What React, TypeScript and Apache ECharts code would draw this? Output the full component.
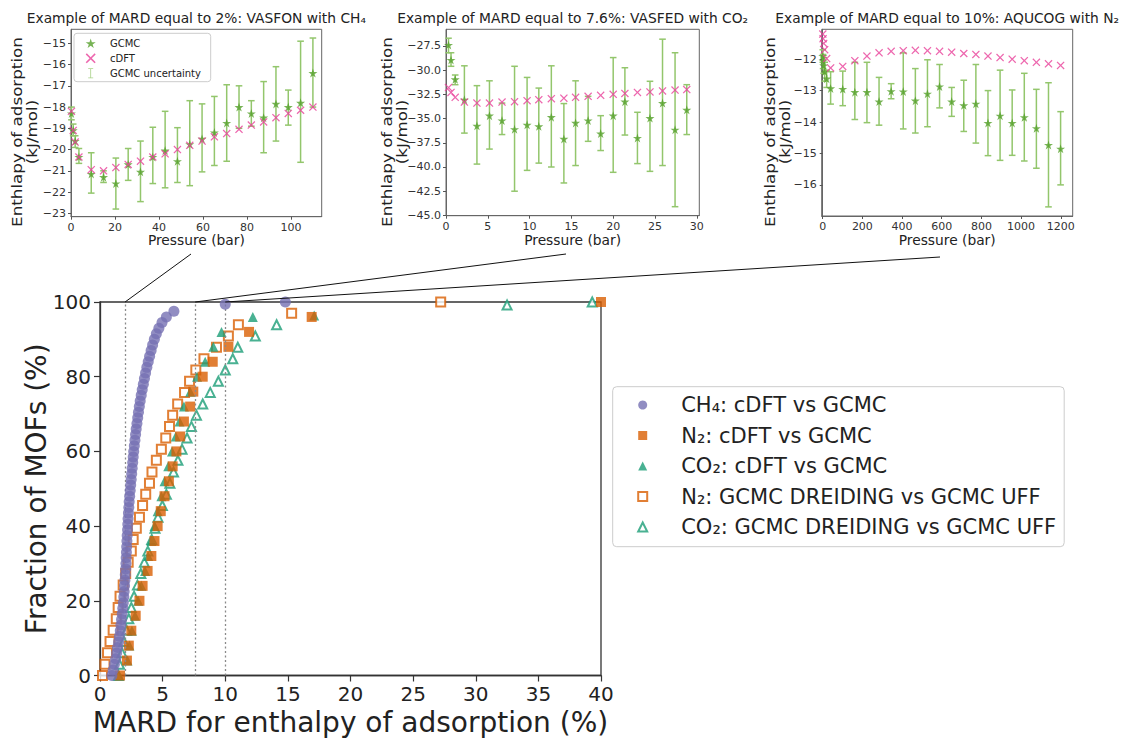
import React, { useEffect, useRef } from "react";
import * as echarts from "echarts";

const FONT = "DejaVu Sans, sans-serif";

// ---------------- Main panel: cumulative distributions ----------------
const CH4_FRACTION = [0, 1.5, 3, 4.5, 6, 7.5, 9, 10.5, 12, 13.5, 15, 16.5, 18, 19.5, 21, 22.5, 24, 25.5, 27, 28.5, 30, 31.5, 33, 34.5, 36, 37.5, 39, 40.5, 42, 43.5, 45, 46.5, 48, 49.5, 51, 52.5, 54, 55.5, 57, 58.5, 60, 61.5, 63, 64.5, 66, 67.5, 69, 70.5, 72, 73.5, 75, 76.5, 78, 79.5, 81, 82.5, 84, 85.5, 87, 88.5, 90, 91.5, 93, 94.5, 96, 97.5, 99.4, 100];
const CH4_MARD = [0.95, 1.05, 1.15, 1.25, 1.33, 1.4, 1.48, 1.55, 1.62, 1.67,
  1.72, 1.77, 1.82, 1.86, 1.9, 1.93, 1.96, 1.99, 2.02, 2.05,
  2.07, 2.09, 2.11, 2.13, 2.15, 2.17, 2.2, 2.22, 2.24, 2.27,
  2.3, 2.33, 2.37, 2.41, 2.45, 2.49, 2.53, 2.57, 2.61, 2.65,
  2.69, 2.74, 2.79, 2.84, 2.89, 2.95, 3.01, 3.07, 3.14, 3.21,
  3.29, 3.37, 3.46, 3.55, 3.64, 3.74, 3.85, 3.96, 4.08, 4.2,
  4.34, 4.5, 4.7, 4.95, 5.3, 5.9, 10.0, 14.8];

const N2_CDFT_FRACTION = [0, 4, 8, 12, 16, 20, 24, 28, 32, 36, 40, 44, 48, 52, 56, 60, 64, 68, 72, 76, 80, 84, 88, 92, 96, 100];
const N2_CDFT_MARD = [1.6, 2.15, 2.3, 2.5, 2.85, 3.15, 3.4, 3.8, 4.1, 4.35, 4.6, 4.85, 5.15, 5.5, 5.8, 6.1, 6.4, 6.7, 7.2, 7.45, 8.2, 9.0, 10.25, 11.9, 16.9, 40.0];

const CO2_CDFT_FRACTION = [0, 4, 8, 12, 16, 20, 24, 28, 32, 36, 40, 44, 48, 52, 56, 60, 64, 68, 72, 76, 80, 84, 88, 92, 96, 96.4];
const CO2_CDFT_MARD = [1.5, 2.2, 2.35, 2.55, 2.8, 3.05, 3.3, 3.6, 3.85, 4.1, 4.35, 4.6, 4.9, 5.15, 5.45, 5.75, 6.05, 6.35, 6.7, 7.2, 7.75, 8.4, 9.05, 9.7, 12.2, 17.1];

const N2_FF_FRACTION = [0, 3.0, 6.1, 9.1, 12.1, 15.2, 18.2, 21.2, 24.2, 27.3, 30.3, 33.3, 36.4, 39.4, 42.4, 45.5, 48.5, 51.5, 54.5, 57.6, 60.6, 63.6, 66.7, 69.7, 72.7, 75.8, 78.8, 81.8, 84.8, 87.9, 90.9, 93.9, 97.0, 100];
const N2_FF_MARD = [0.2, 0.4, 0.6, 0.8, 1.05, 1.3, 1.45, 1.6, 1.85, 2.05, 2.25, 2.5, 2.65, 2.9, 3.15, 3.4, 3.65, 3.95, 4.15, 4.5, 4.9, 5.25, 5.55, 5.8, 6.2, 6.75, 7.15, 7.65, 8.3, 9.3, 10.25, 11.05, 15.3, 27.2];

const CO2_FF_FRACTION = [0, 3.0, 6.1, 9.1, 12.1, 15.2, 18.2, 21.2, 24.2, 27.3, 30.3, 33.3, 36.4, 39.4, 42.4, 45.5, 48.5, 51.5, 54.5, 57.6, 60.6, 63.6, 66.7, 69.7, 72.7, 75.8, 78.8, 81.8, 84.8, 87.9, 90.9, 93.9, 99.2, 100];
const CO2_FF_MARD = [1.47, 1.56, 1.75, 1.9, 2.12, 2.3, 2.5, 2.72, 2.99, 3.26, 3.54, 3.82, 4.13, 4.39, 4.63, 4.98, 5.3, 5.58, 5.87, 6.22, 6.55, 6.95, 7.3, 7.7, 8.2, 8.8, 9.45, 10.0, 10.6, 11.0, 12.4, 14.1, 32.5, 39.3];

const SERIES_LABELS = [
  "CH\u2084: cDFT vs GCMC",
  "N\u2082: cDFT vs GCMC",
  "CO\u2082: cDFT vs GCMC",
  "N\u2082: GCMC DREIDING vs GCMC UFF",
  "CO\u2082: GCMC DREIDING vs GCMC UFF",
];
const MARD_EXAMPLES = [2, 7.6, 10];
const MAIN_X_RANGE = [0, 40];
const MAIN_X_STEP = 5;
const MAIN_Y_RANGE = [0, 100];
const MAIN_Y_STEP = 20;

// ---------------- Inset 1: VASFON with CH4 ----------------
const VASFON_P = [0.2, 1.0, 1.9, 3.6, 9.2, 14.8, 20.4, 26.0, 31.6, 37.2, 42.8, 48.4, 54.0, 59.6, 65.2, 70.8, 76.4, 82.0, 87.6, 93.2, 98.8, 104.4, 110.0];
const VASFON_GCMC = [-18.3, -19.1, -19.6, -20.35, -21.15, -21.3, -21.6, -20.7, -21.05, -20.35, -20.05, -20.55, -19.75, -19.5, -19.2, -18.75, -18.0, -18.3, -18.5, -17.85, -18.0, -17.8, -16.4];
const VASFON_LOW = [-18.6, -19.35, -19.9, -20.65, -22.05, -21.55, -22.8, -21.45, -22.45, -21.6, -21.8, -21.55, -21.7, -21.05, -20.75, -20.55, -19.0, -18.9, -20.15, -19.6, -18.85, -20.6, -18.0];
const VASFON_HIGH = [-18.0, -18.8, -19.35, -19.95, -20.15, -21.0, -20.4, -19.95, -19.6, -18.95, -18.2, -18.97, -17.7, -17.85, -17.5, -16.95, -17.0, -17.7, -16.8, -16.1, -17.2, -14.9, -14.75];
const VASFON_CDFT = [-18.2, -19.1, -19.65, -20.35, -20.95, -21.0, -20.85, -20.7, -20.55, -20.35, -20.2, -20.0, -19.8, -19.6, -19.4, -19.25, -19.05, -18.85, -18.7, -18.5, -18.3, -18.15, -18.0];
const VASFON_X_TICKS = [0, 20, 40, 60, 80, 100];
const VASFON_Y_TICKS = [-23, -22, -21, -20, -19, -18, -17, -16, -15];

// ---------------- Inset 2: VASFED with CO2 ----------------
const VASFED_P = [0.3, 0.6, 1.1, 2.2, 3.7, 5.2, 6.7, 8.2, 9.7, 11.1, 12.6, 14.1, 15.5, 17.0, 18.5, 20.0, 21.4, 22.9, 24.4, 25.9, 27.4, 28.8];
const VASFED_GCMC = [-27.4, -28.95, -30.95, -33.05, -35.75, -34.7, -35.2, -36.1, -35.65, -35.8, -34.85, -37.1, -35.45, -35.2, -36.55, -34.7, -33.25, -37.0, -34.95, -33.4, -36.15, -34.1];
const VASFED_LOW = [-28.2, -29.6, -31.5, -36.5, -39.7, -38.15, -36.65, -42.5, -40.35, -39.6, -40.0, -41.65, -39.85, -37.35, -38.3, -40.55, -36.7, -39.65, -40.45, -39.85, -44.1, -36.65];
const VASFED_HIGH = [-26.7, -28.2, -30.5, -29.55, -31.6, -31.1, -33.4, -29.6, -30.75, -31.85, -29.55, -33.45, -31.1, -32.7, -34.7, -28.7, -29.75, -34.35, -31.15, -26.8, -28.2, -31.5];
const VASFED_CDFT = [-31.8, -32.3, -32.8, -33.3, -33.4, -33.4, -33.3, -33.25, -33.15, -33.05, -32.95, -32.9, -32.8, -32.7, -32.6, -32.5, -32.4, -32.3, -32.25, -32.15, -32.05, -32.0];
const VASFED_X_TICKS = [0, 5, 10, 15, 20, 25, 30];
const VASFED_Y_TICKS = [-45, -42.5, -40, -37.5, -35, -32.5, -30, -27.5];

// ---------------- Inset 3: AQUCOG with N2 ----------------
const AQUCOG_P = [0.5, 2, 5, 10, 20, 40, 101, 162, 223, 284, 345, 406, 467, 528, 589, 650, 711, 772, 833, 894, 955, 1016, 1077, 1138, 1199];
const AQUCOG_GCMC = [-11.9, -12.05, -12.2, -12.4, -12.62, -12.93, -12.95, -13.05, -13.05, -13.35, -13.02, -13.03, -13.32, -13.1, -12.87, -13.35, -13.47, -13.42, -14.03, -13.8, -14.03, -13.85, -14.2, -14.73, -14.85];
const AQUCOG_LOW = [-12.1, -12.3, -12.45, -12.7, -12.9, -13.43, -13.48, -13.92, -14.02, -14.1, -13.26, -14.22, -14.35, -14.15, -13.55, -13.82, -14.3, -14.67, -15.07, -15.22, -15.06, -15.24, -15.47, -16.7, -16.0];
const AQUCOG_HIGH = [-11.7, -11.85, -11.95, -12.1, -12.35, -12.4, -12.38, -12.1, -12.1, -12.58, -12.78, -11.8, -12.3, -12.02, -12.17, -12.9, -12.67, -12.17, -13.0, -12.35, -12.98, -12.45, -12.96, -12.75, -13.67];
const AQUCOG_CDFT = [-11.2, -11.35, -11.5, -11.7, -11.98, -12.28, -12.23, -12.05, -11.9, -11.8, -11.75, -11.73, -11.72, -11.73, -11.75, -11.78, -11.82, -11.85, -11.9, -11.95, -12.0, -12.05, -12.1, -12.15, -12.2];
const AQUCOG_X_TICKS = [0, 200, 400, 600, 800, 1000, 1200];
const AQUCOG_Y_TICKS = [-16, -15, -14, -13, -12];

const INSET_TITLES = [
  "Example of MARD equal to 2%: VASFON with CH\u2084",
  "Example of MARD equal to 7.6%: VASFED with CO\u2082",
  "Example of MARD equal to 10%: AQUCOG with N\u2082",
];
const INSET_LEGEND = ["GCMC", "cDFT", "GCMC uncertainty"];

// ---------------- styling / layout ----------------
const C_CH4 = "#7570b3";
const C_N2 = "#d95f02";
const C_CO2 = "#1b9e77";
const C_STAR = "#55a02b";
const C_ERR = "#93c66c";
const C_CDFT = "#e8419a";

const STAR = "path://M5,0L6.18,3.62L10,3.62L6.91,5.86L8.09,9.48L5,7.24L1.91,9.48L3.09,5.86L0,3.62L3.82,3.62Z";
const CROSS = "path://M0,1.1L1.1,0L5,3.9L8.9,0L10,1.1L6.1,5L10,8.9L8.9,10L5,6.1L1.1,10L0,8.9L3.9,5Z";
const ERR_ICON = "path://M0,0H10V1.6H5.8V18.4H10V20H0V18.4H4.2V1.6H0Z";

const MAIN = { left: 100, top: 302, width: 501, height: 373.5 };
const INSETS = [
  { left: 71, top: 29.3, width: 250.7, height: 187.4, x: [0, 114], y: [-23.16, -14.34], yOff: 45.5, dec: 0, end: [191, 254],
    P: VASFON_P, G: VASFON_GCMC, LO: VASFON_LOW, HI: VASFON_HIGH, D: VASFON_CDFT, xt: VASFON_X_TICKS, yt: VASFON_Y_TICKS },
  { left: 446, top: 29.3, width: 253.3, height: 186.4, x: [0, 30.3], y: [-45.03, -25.78], yOff: 51, dec: 1, end: [566, 254],
    P: VASFED_P, G: VASFED_GCMC, LO: VASFED_LOW, HI: VASFED_HIGH, D: VASFED_CDFT, xt: VASFED_X_TICKS, yt: VASFED_Y_TICKS },
  { left: 821.7, top: 29.3, width: 251, height: 186.7, x: [-5, 1260], y: [-16.99, -11.05], yOff: 44, dec: 0, end: [940, 257],
    P: AQUCOG_P, G: AQUCOG_GCMC, LO: AQUCOG_LOW, HI: AQUCOG_HIGH, D: AQUCOG_CDFT, xt: AQUCOG_X_TICKS, yt: AQUCOG_Y_TICKS },
];

const fmtNum = (v: number, dec: number) => (v < 0 ? "\u2212" : "") + Math.abs(v).toFixed(dec);

function textEl(id: string, text: string, x: number, y: number, size: number, extra: any = {}) {
  return {
    type: "text", id, x, y, z: 20, silent: true, ...extra,
    style: {
      text, fontSize: size, fontFamily: FONT, fill: "#222",
      align: "center", verticalAlign: "middle", textAlign: "center", textVerticalAlign: "middle",
      lineHeight: extra.lineHeight || undefined,
    },
  };
}

function buildOption() {
  const grid: any[] = [{ ...MAIN, show: true, borderColor: "#333", borderWidth: 1.3, backgroundColor: "transparent" }];
  const xAxis: any[] = [{
    type: "value", gridIndex: 0, min: MAIN_X_RANGE[0], max: MAIN_X_RANGE[1], interval: MAIN_X_STEP,
    axisLine: { show: true, lineStyle: { color: "#333", width: 1.3 } },
    axisTick: { show: true, length: 6, lineStyle: { color: "#333", width: 1.2 } },
    axisLabel: { fontSize: 20, fontFamily: FONT, color: "#222", margin: 8 },
    splitLine: { show: false },
  }];
  const yAxis: any[] = [{
    type: "value", gridIndex: 0, min: MAIN_Y_RANGE[0], max: MAIN_Y_RANGE[1], interval: MAIN_Y_STEP,
    axisLine: { show: true, lineStyle: { color: "#333", width: 1.3 } },
    axisTick: { show: true, length: 6, lineStyle: { color: "#333", width: 1.2 } },
    axisLabel: { fontSize: 20, fontFamily: FONT, color: "#222", margin: 9 },
    splitLine: { show: false },
  }];

  const pairs = (xs: number[], ys: number[]) => xs.map((x, i) => [x, ys[i]]);
  const series: any[] = [
    {
      type: "scatter", name: "guides", data: [], xAxisIndex: 0, yAxisIndex: 0, z: 1, silent: true,
      markLine: {
        silent: true, symbol: ["none", "none"], label: { show: false }, emphasis: { disabled: true },
        lineStyle: { type: [2, 2.5], color: "#8a8a8a", width: 1.3 },
        data: MARD_EXAMPLES.map((m) => ({ xAxis: m })),
      },
    },
    // legend proxy for the error bars (custom series do not give a coloured legend icon)
    { type: "scatter", name: INSET_LEGEND[2], data: [], xAxisIndex: 1, yAxisIndex: 1, symbol: ERR_ICON, itemStyle: { color: C_ERR } },
    { type: "scatter", name: SERIES_LABELS[3], data: pairs(N2_FF_MARD, N2_FF_FRACTION), symbol: "rect", symbolSize: 9, clip: false, z: 2,
      itemStyle: { color: "#ffffff", borderColor: C_N2, borderWidth: 2 } },
    { type: "scatter", name: SERIES_LABELS[4], data: pairs(CO2_FF_MARD, CO2_FF_FRACTION), symbol: "triangle", symbolSize: 9, clip: false, z: 2,
      itemStyle: { color: "#ffffff", borderColor: C_CO2, borderWidth: 2 } },
    { type: "scatter", name: SERIES_LABELS[2], data: pairs(CO2_CDFT_MARD, CO2_CDFT_FRACTION), symbol: "triangle", symbolSize: 10, clip: false, z: 3,
      itemStyle: { color: C_CO2 } },
    { type: "scatter", name: SERIES_LABELS[1], data: pairs(N2_CDFT_MARD, N2_CDFT_FRACTION), symbol: "rect", symbolSize: 10, clip: false, z: 4,
      itemStyle: { color: C_N2 } },
    { type: "scatter", name: SERIES_LABELS[0], data: pairs(CH4_MARD, CH4_FRACTION), symbol: "circle", symbolSize: 11, clip: false, z: 5,
      itemStyle: { color: C_CH4 } },
  ];

  const graphic: any[] = [];

  INSETS.forEach((ins, k) => {
    const gi = k + 1;
    grid.push({ left: ins.left, top: ins.top, width: ins.width, height: ins.height, show: true, borderColor: "#666", borderWidth: 1, backgroundColor: "transparent" });
    xAxis.push({
      type: "value", gridIndex: gi, min: ins.x[0], max: ins.x[1],
      axisLine: { show: true, lineStyle: { color: "#666", width: 1 } },
      axisTick: { show: true, length: 3, customValues: ins.xt, lineStyle: { color: "#555" } },
      axisLabel: { fontSize: 11, fontFamily: FONT, color: "#333", margin: 5, customValues: ins.xt, formatter: (v: number) => fmtNum(v, 0) },
      splitLine: { show: false },
    });
    yAxis.push({
      type: "value", gridIndex: gi, min: ins.y[0], max: ins.y[1],
      axisLine: { show: true, lineStyle: { color: "#666", width: 1 } },
      axisTick: { show: true, length: 3, customValues: ins.yt, lineStyle: { color: "#555" } },
      axisLabel: { fontSize: 11, fontFamily: FONT, color: "#333", margin: 5, customValues: ins.yt, formatter: (v: number) => fmtNum(v, ins.dec) },
      splitLine: { show: false },
    });
    series.push({
      type: "custom", name: INSET_LEGEND[2], xAxisIndex: gi, yAxisIndex: gi, z: 1,
      itemStyle: { color: C_ERR },
      data: ins.P.map((p, i) => [p, ins.LO[i], ins.HI[i]]),
      encode: { x: 0, y: [1, 2] },
      renderItem: (params: any, api: any) => {
        const xv = api.value(0);
        const a = api.coord([xv, api.value(1)]);
        const b = api.coord([xv, api.value(2)]);
        const cap = 3.3;
        const style = { stroke: C_ERR, lineWidth: 1.5 };
        return {
          type: "group",
          children: [
            { type: "line", shape: { x1: a[0], y1: a[1], x2: b[0], y2: b[1] }, style },
            { type: "line", shape: { x1: a[0] - cap, y1: a[1], x2: a[0] + cap, y2: a[1] }, style },
            { type: "line", shape: { x1: b[0] - cap, y1: b[1], x2: b[0] + cap, y2: b[1] }, style },
          ],
        };
      },
    });
    series.push({
      type: "scatter", name: INSET_LEGEND[0], xAxisIndex: gi, yAxisIndex: gi, z: 3, symbol: STAR, symbolSize: 9,
      itemStyle: { color: C_STAR }, data: pairs(ins.P, ins.G),
    });
    series.push({
      type: "scatter", name: INSET_LEGEND[1], xAxisIndex: gi, yAxisIndex: gi, z: 4, symbol: CROSS, symbolSize: 8,
      itemStyle: { color: C_CDFT }, data: pairs(ins.P, ins.D),
    });

    const cx = ins.left + ins.width / 2;
    graphic.push(textEl("title" + k, INSET_TITLES[k], cx, 17.5, 13.8));
    graphic.push(textEl("xl" + k, "Pressure (bar)", cx, 239.5, 13.8));
    graphic.push(textEl("yl" + k, "Enthlapy of adsorption\n(kJ/mol)", ins.left - ins.yOff, 132, 13.5,
      { rotation: Math.PI / 2, scaleX: 1.24, lineHeight: 15 }));
  });

  graphic.push(textEl("mainx", "MARD for enthalpy of adsorption (%)", MAIN.left + MAIN.width / 2, 722, 28));
  graphic.push(textEl("mainy", "Fraction of MOFs (%)", 36, MAIN.top + MAIN.height / 2, 28, { rotation: Math.PI / 2 }));

  // legend frames
  graphic.push({ type: "rect", id: "legbox", z: 3, silent: true, shape: { x: 612.7, y: 386.7, width: 451.5, height: 160, r: 4 },
    style: { fill: "rgba(255,255,255,0.85)", stroke: "#cccccc", lineWidth: 1 } });
  graphic.push({ type: "rect", id: "inlegbox", z: 3, silent: true, shape: { x: 74, y: 33.3, width: 136.7, height: 48.4, r: 3 },
    style: { fill: "rgba(255,255,255,0.85)", stroke: "#cccccc", lineWidth: 1 } });

  const legend = [
    {
      orient: "vertical", left: 637.2, top: 393, padding: 0, itemWidth: 9, itemHeight: 9, itemGap: 6.5,
      selectedMode: false, z: 10, data: SERIES_LABELS,
      textStyle: { fontSize: 21, fontFamily: FONT, color: "#222", lineHeight: 24, padding: [0, 0, 0, 29] },
    },
    {
      orient: "vertical", left: 85.7, top: 37.3, padding: 0, itemWidth: 10, itemHeight: 10, itemGap: 3,
      selectedMode: false, z: 10, data: INSET_LEGEND,
      textStyle: { fontSize: 10, fontFamily: FONT, color: "#222", lineHeight: 12, padding: [0, 0, 0, 9.3] },
    },
  ];

  return { animation: false, backgroundColor: "#ffffff", grid, xAxis, yAxis, series, legend, graphic };
}

export default function App() {
  const ref = useRef<HTMLDivElement>(null);
  useEffect(() => {
    document.body.style.margin = "0";
    const chart = echarts.init(ref.current as HTMLDivElement, null, { renderer: "svg" });
    chart.setOption(buildOption() as any);
    const connectors = MARD_EXAMPLES.map((m, k) => {
      const p = chart.convertToPixel({ gridIndex: 0 } as any, [m, MAIN_Y_RANGE[1]]) as number[];
      const e = INSETS[k].end;
      return {
        type: "line", id: "conn" + k, z: 20, silent: true,
        shape: { x1: p[0], y1: p[1], x2: e[0], y2: e[1] },
        style: { stroke: "#111", lineWidth: 1 },
      };
    });
    chart.setOption({ graphic: connectors } as any);
    return () => chart.dispose();
  }, []);
  return <div ref={ref} style={{ position: "fixed", left: 0, top: 0, width: 1124, height: 740 }} />;
}
